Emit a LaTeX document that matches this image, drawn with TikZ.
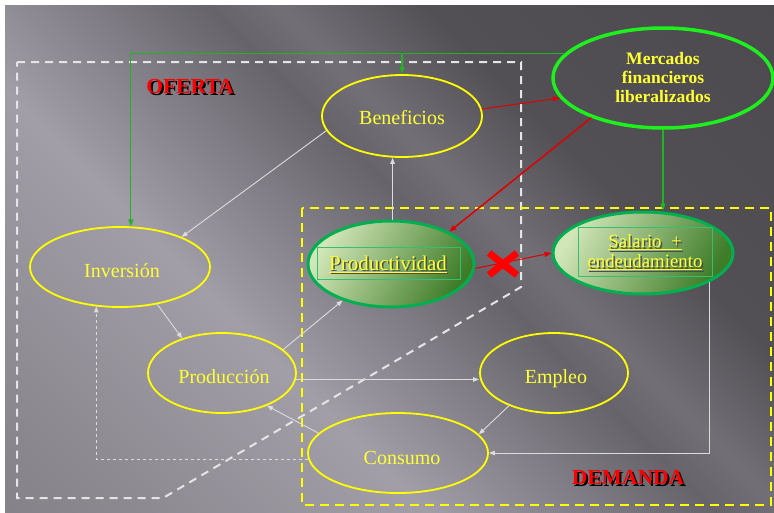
\documentclass[tikz,border=0pt]{standalone}
\usepackage{fontspec}
\setmainfont{Liberation Serif}
\usetikzlibrary{shapes.geometric,arrows.meta,calc}
\definecolor{yel}{HTML}{FFFF00}
\definecolor{txtyel}{HTML}{FFFF33}
\definecolor{wline}{HTML}{DCDCDC}
\definecolor{rline}{HTML}{E00000}
\definecolor{gline}{HTML}{22B322}
\definecolor{gbright}{HTML}{1EF01E}
\definecolor{gborder}{HTML}{00B050}
\definecolor{glight}{HTML}{D2E6B8}
\definecolor{gdark}{HTML}{3E7C28}
\definecolor{bgA}{HTML}{77747C}
\definecolor{bgB}{HTML}{8A878F}
\definecolor{bgC}{HTML}{A19EA7}
\definecolor{bgD}{HTML}{84818A}
\definecolor{bgE}{HTML}{66646A}
\definecolor{bgF}{HTML}{727076}
\definecolor{bgG}{HTML}{524F55}
\definecolor{bgH}{HTML}{48464B}
\pgfdeclarehorizontalshading{bgshade}{100bp}{color(0bp)=(bgA); color(20bp)=(bgB); color(38bp)=(bgC); color(46bp)=(bgD); color(54bp)=(bgE); color(58bp)=(bgF); color(66bp)=(bgG); color(100bp)=(bgH)}
\newcommand\shadowtxt[3]{\makebox[0pt][l]{\hspace{#1}\raisebox{-#1}{\color{#2}#3}}#3}
\tikzset{
  yell/.style={ellipse, draw=yel, line width=1.8pt, inner sep=0pt},
  txt/.style={text=txtyel, font=\fontsize{20}{24}\selectfont, inner sep=0pt},
  wa/.style={draw=wline, line width=0.9pt, -{Triangle[length=6pt,width=4.5pt]}},
  ra/.style={draw=rline, line width=1.3pt, -{Triangle[length=7pt,width=5pt]}},
  ga/.style={draw=gline, line width=1.1pt, -{Triangle[length=7pt,width=5pt]}},
  gfill/.style={ellipse, draw=gborder, line width=3pt, inner sep=0pt, left color=glight, right color=gdark, shading angle=60},
  inbox/.style={draw=gborder!80!white, line width=0.8pt, inner sep=0pt},
  wdash/.style={draw=white!90!black, line width=2pt, dash pattern=on 8pt off 6pt},
  ydash/.style={draw=yel, line width=2pt, dash pattern=on 9pt off 6pt},
  title/.style={font=\bfseries\fontsize{21.5}{24}\selectfont, inner sep=0pt, text=red}
}
\begin{document}
\begin{tikzpicture}[x=1pt,y=-1pt]
\useasboundingbox (0,0) rectangle (774,512);
\fill[white] (0,0) rectangle (774,512);
\shade[shading=bgshade, shading angle=45] (5,5) rectangle (774,512);

% boxes
\draw[wdash] (17,62) -- (521,62) -- (521,287) -- (163,498) -- (17,498) -- cycle;
\draw[ydash] (302,208) rectangle (771,505);

% titles
\node[title] (of) at (190,87) {\shadowtxt{2pt}{black}{OFERTA}};
\node[title] (de) at (628,478) {\shadowtxt{2pt}{black}{DEMANDA}};

% nodes
\node[yell, minimum width=160pt, minimum height=82pt] (ben) at (402,116) {};
\node[ellipse, draw=gbright, line width=3.5pt, inner sep=0pt, minimum width=220pt, minimum height=100pt] (merc) at (663,78) {};
\node[yell, minimum width=180pt, minimum height=80pt] (inv) at (120,267) {};
\node[yell, minimum width=148pt, minimum height=80pt] (prod) at (222,373) {};
\node[yell, minimum width=180pt, minimum height=80pt] (cons) at (398,453) {};
\node[yell, minimum width=148pt, minimum height=80pt] (emp) at (554,373) {};
\node[gfill, minimum width=166pt, minimum height=86pt] (pdv) at (391,264) {};
\node[gfill, minimum width=180pt, minimum height=82pt] (sal) at (643,253) {};
\node[inbox, minimum width=143pt, minimum height=32pt] (pdvbox) at (388.5,263) {};
\node[inbox, minimum width=134pt, minimum height=49pt] (salbox) at (645,251.5) {};

% texts
\node[txt] (bent) at (402,118) {Beneficios};
\node[txt, font=\bfseries\fontsize{17.5}{19}\selectfont, align=center] (merct) at (663,78) {Mercados\\financieros\\liberalizados};
\node[txt] (invt) at (122,271) {Inversión};
\node[txt] (prodt) at (224,377) {Producción};
\node[txt] (const) at (402,458) {Consumo};
\node[txt] (empt) at (556,379) {Empleo};
\node[txt, font=\fontsize{21}{24}\selectfont] (pdvt) at (388,265) {\shadowtxt{1.5pt}{black!70}{\underline{Productividad}}};
\node[txt, font=\fontsize{18.8}{20}\selectfont, align=center] (salt) at (645,253) {\shadowtxt{1.5pt}{black!70}{\underline{Salario\ \ +}}\\\shadowtxt{1.5pt}{black!70}{\underline{endeudamiento}}};

% green connectors
\draw[ga] (merc.166) -| (inv.75);
\draw[ga] (ben.north |- merc.166) -- (ben.north);
\draw[ga] (merc.south) -- (merc.south |- sal.north);

% red connectors
\draw[ra, line width=1pt] (ben.5) -- (merc.191);
\draw[ra, line width=1.5pt] (merc.209) -- (pdv.29);
\draw[ra, line width=1pt] (pdv.-3) -- (sal.west);
\draw[red, line width=7pt] (489,253) -- (517,275);
\draw[red, line width=7pt] (489,275) -- (517,253);

% white connectors
\draw[wa] (ben.191) -- (inv.26);
\draw[wa] (pdv.88) -- (pdv.88 |- ben.south);
\draw[wa] (inv.-45) -- (prod.139);
\draw[wa] (prod.21) -- (pdv.217);
\draw[wa] (prod.-5) -- (prod.-5 -| emp.west);
\draw[wa] (emp.216) -- (cons.13);
\draw[wa] (cons.166) -- (prod.-36);
\draw[wa] (sal.-24) |- (cons.east);
\draw[wa, dashed, line width=0.8pt] (cons.184) -| (inv.239);
\end{tikzpicture}
\end{document}
